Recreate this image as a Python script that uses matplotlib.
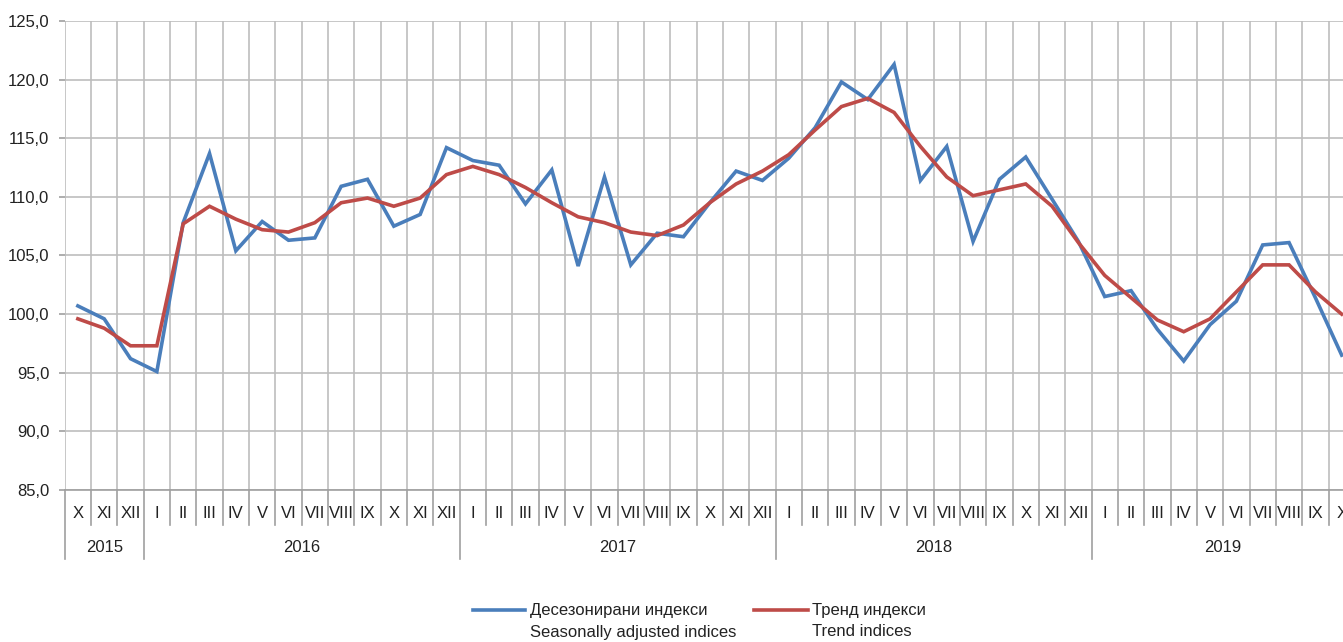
import matplotlib
matplotlib.use('Agg')
import matplotlib.pyplot as plt
from matplotlib import font_manager
from matplotlib.lines import Line2D
from matplotlib.ticker import FuncFormatter, MultipleLocator

# prefer a narrow Arial-like face, fall back to Liberation Sans
names = set(f.name for f in font_manager.fontManager.ttflist)
if 'Liberation Sans Narrow' in names:
    fam, fs = 'Liberation Sans Narrow', 13
else:
    fam, fs = 'Liberation Sans', 12
plt.rcParams['font.family'] = [fam, 'DejaVu Sans']

# months Oct 2015 .. Oct 2019
months = ['X', 'XI', 'XII'] + ['I', 'II', 'III', 'IV', 'V', 'VI', 'VII', 'VIII', 'IX', 'X', 'XI', 'XII'] * 3 + \
         ['I', 'II', 'III', 'IV', 'V', 'VI', 'VII', 'VIII', 'IX', 'X']
years = ['2015', '2016', '2017', '2018', '2019']
year_len = [3, 12, 12, 12, 10]

seasonal = [100.7, 99.6, 96.2, 95.1, 107.8, 113.7, 105.4, 107.9, 106.3, 106.5, 110.9, 111.5,
            107.5, 108.5, 114.2, 113.1, 112.7, 109.4, 112.3, 104.1, 111.7, 104.2, 106.9, 106.6,
            109.5, 112.2, 111.4, 113.3, 115.9, 119.8, 118.3, 121.3, 111.4, 114.3, 106.2, 111.5,
            113.4, 109.8, 106.2, 101.5, 102.0, 98.7, 96.0, 99.1, 101.1, 105.9, 106.1, 101.4, 96.5]
trend = [99.6, 98.8, 97.3, 97.3, 107.7, 109.2, 108.1, 107.2, 107.0, 107.8, 109.5, 109.9,
         109.2, 109.9, 111.9, 112.6, 111.9, 110.8, 109.5, 108.3, 107.8, 107.0, 106.7, 107.6,
         109.5, 111.1, 112.2, 113.6, 115.7, 117.7, 118.4, 117.2, 114.3, 111.7, 110.1, 110.6,
         111.1, 109.2, 106.1, 103.3, 101.4, 99.5, 98.5, 99.6, 101.9, 104.2, 104.2, 101.9, 100.0]

W, H = 1343, 642
fig = plt.figure(figsize=(W / 100, H / 100), dpi=100)
n = len(months)
cat_w = 26.33
left = 64.7
ax = fig.add_axes([left / W, 1 - 490 / H, n * cat_w / W, 469 / H])

x = list(range(n))
blue = '#4a7ebb'
red = '#be4b48'
ax.plot(x, seasonal, color=blue, lw=2.6, solid_joinstyle='miter', zorder=3)
ax.plot(x, trend, color=red, lw=2.6, solid_joinstyle='miter', zorder=4)

ax.set_xlim(-0.5, n - 0.5)
ax.set_ylim(85, 125)
ax.yaxis.set_major_locator(MultipleLocator(5))
ax.yaxis.set_major_formatter(FuncFormatter(lambda v, p: ('%.1f' % v).replace('.', ',')))
ax.set_xticks([])

gridc = '#bdbdbd'
ax.grid(axis='y', color=gridc, lw=1.2)
for k in range(n + 1):
    ax.axvline(k - 0.5, color=gridc, lw=1.2, zorder=1)

for s in ['top', 'right', 'left']:
    ax.spines[s].set_visible(False)
ax.spines['bottom'].set_color('#a0a0a0')
ax.spines['bottom'].set_linewidth(1.2)
ax.tick_params(axis='y', length=4, width=1.2, color='#a0a0a0', labelsize=fs, labelcolor='#222222', pad=7)

trans = ax.get_xaxis_transform()
sep_short = -35 / 469
sep_long = -69 / 469
year_starts = [0]
for L in year_len[:-1]:
    year_starts.append(year_starts[-1] + L)
for k in range(n + 1):
    y1 = sep_long if (k in year_starts or k == n) else sep_short
    ax.plot([k - 0.5, k - 0.5], [0, y1], transform=trans, color='#a0a0a0', lw=1.2, clip_on=False)
for k, m in enumerate(months):
    ax.text(k, -23 / 469, m, transform=trans, ha='center', va='center', fontsize=fs, color='#222222')
for st, L, yr in zip(year_starts, year_len, years):
    ax.text(st + (L - 1) / 2, -58 / 469, yr, transform=trans, ha='center', va='center', fontsize=fs, color='#222222')

# legend
fig.add_artist(Line2D([473 / W, 525 / W], [1 - 610 / H, 1 - 610 / H], color=blue, lw=2.6))
fig.text(530 / W, 1 - 610 / H, 'Десезонирани индекси', ha='left', va='center', fontsize=fs, color='#222222')
fig.text(530 / W, 1 - 632 / H, 'Seasonally adjusted indices', ha='left', va='center', fontsize=fs, color='#222222')
fig.add_artist(Line2D([754 / W, 808 / W], [1 - 610 / H, 1 - 610 / H], color=red, lw=2.6))
fig.text(812 / W, 1 - 610 / H, 'Тренд индекси', ha='left', va='center', fontsize=fs, color='#222222')
fig.text(812 / W, 1 - 632 / H, 'Trend indices', ha='left', va='center', fontsize=fs, color='#222222')

fig.savefig('out.png', dpi=100)
